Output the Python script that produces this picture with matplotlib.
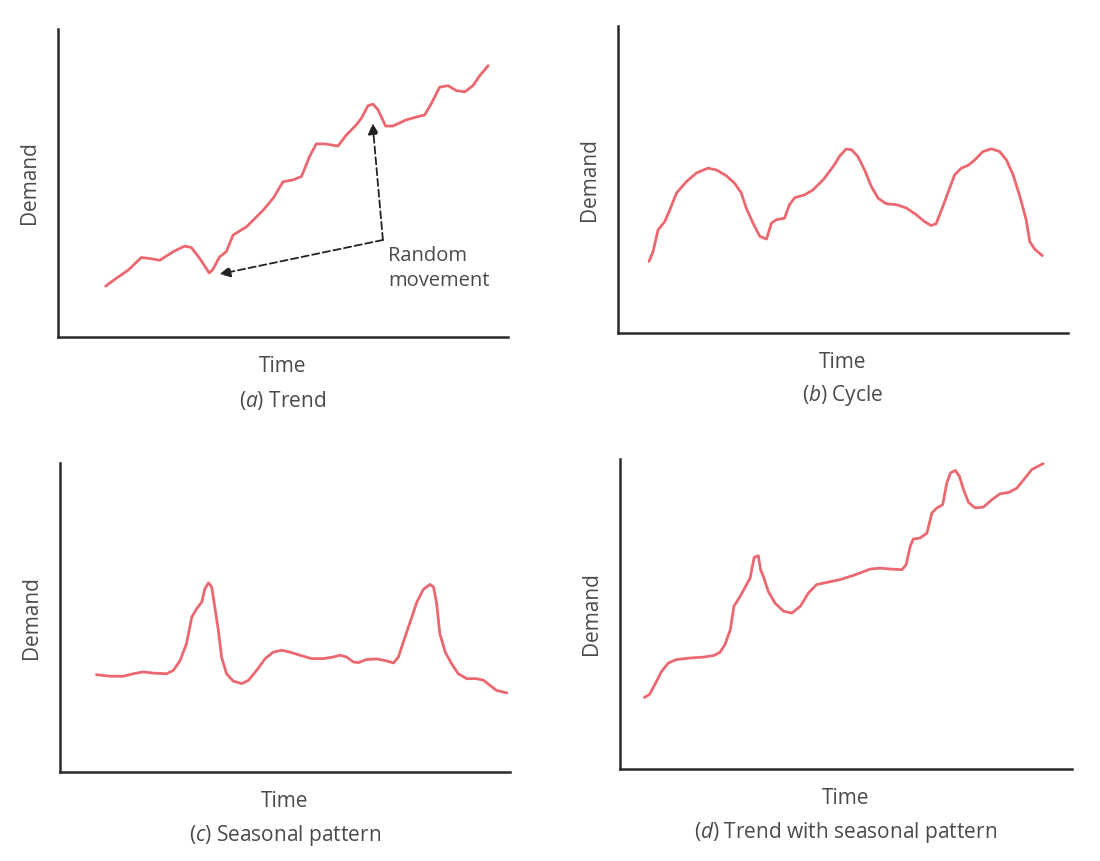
import matplotlib
matplotlib.use("Agg")
import matplotlib.pyplot as plt

plt.rcParams['font.family'] = ['Open Sans', 'DejaVu Sans']
plt.rcParams['mathtext.fontset'] = 'custom'
plt.rcParams['mathtext.rm'] = 'Open Sans'
plt.rcParams['mathtext.it'] = 'Open Sans:italic'

# ---- data (time 0-100, demand 0-100) ----
trend_t = [10.6, 12.6, 15.6, 18.5, 20.4, 22.6, 25.6, 28.1, 29.6, 31.5, 33.6, 34.4, 35.9, 37.4,
           38.9, 41.9, 45.6, 47.8, 50.0, 52.2, 54.1, 55.9, 57.4, 59.3, 62.2, 64.1, 66.3, 67.4,
           68.9, 70.0, 71.1, 72.8, 74.4, 77.4, 79.6, 81.5, 83.0, 84.8, 86.7, 88.5, 90.4, 92.2,
           93.7, 95.6]
trend_d = [16.5, 18.7, 21.7, 25.8, 25.5, 24.9, 27.7, 29.5, 29.1, 25.5, 20.8, 21.9, 26.0, 27.7,
           33.1, 35.8, 41.2, 45.0, 50.4, 51.0, 52.1, 58.6, 62.7, 62.7, 62.0, 65.6, 68.9, 71.0,
           75.1, 75.6, 73.8, 68.5, 68.5, 70.5, 71.4, 72.1, 75.9, 81.1, 81.6, 80.0, 79.6, 81.6,
           84.8, 88.1]

cycle_t = [6.9, 7.8, 8.9, 10.4, 11.5, 13.0, 15.2, 17.4, 20.0, 21.9, 24.1, 25.9, 27.4, 28.5,
           30.0, 31.5, 33.0, 34.1, 35.2, 37.0, 38.1, 39.3, 41.5, 43.3, 45.6, 47.8, 49.3, 50.7,
           51.9, 53.3, 54.8, 56.3, 57.8, 59.6, 61.9, 64.1, 66.3, 68.1, 69.6, 70.7, 71.9, 73.3,
           74.8, 76.3, 77.8, 79.3, 81.1, 83.0, 84.8, 86.3, 87.8, 89.3, 90.7, 91.5, 92.6, 94.3]
cycle_d = [23.3, 26.6, 33.6, 36.3, 40.1, 45.6, 49.3, 52.1, 53.7, 53.1, 51.2, 48.8, 45.6, 40.7,
           35.8, 31.5, 30.6, 35.8, 36.9, 37.4, 41.8, 44.1, 45.0, 46.6, 49.9, 54.2, 57.7, 59.9,
           59.7, 57.5, 53.1, 47.7, 43.9, 42.1, 41.8, 40.7, 38.5, 36.3, 35.0, 35.6, 40.1, 45.6,
           51.5, 53.7, 54.6, 56.4, 59.1, 60.0, 59.1, 56.4, 51.5, 44.5, 36.9, 29.8, 27.3, 25.2]

season_t = [8.1, 11.1, 14.1, 16.3, 18.5, 20.7, 23.7, 25.2, 26.7, 28.1, 29.3, 30.4, 31.5, 32.2,
            33.0, 33.7, 34.4, 35.2, 35.9, 37.0, 38.5, 40.4, 41.9, 43.7, 45.6, 47.4, 49.3, 51.1,
            53.3, 55.9, 58.5, 60.7, 62.2, 63.7, 65.2, 66.3, 68.1, 70.4, 72.2, 74.1, 75.2, 76.3,
            77.8, 79.3, 80.7, 82.2, 83.0, 83.7, 84.4, 85.6, 87.0, 88.5, 90.4, 92.6, 94.1, 95.6,
            97.0, 99.3]
season_d = [31.5, 31.0, 31.0, 31.8, 32.4, 32.0, 31.8, 32.9, 36.1, 41.5, 50.2, 52.9, 55.0, 59.3,
            61.2, 59.9, 53.4, 45.8, 37.2, 31.8, 29.4, 28.6, 29.7, 32.9, 36.7, 38.8, 39.4, 38.8,
            37.8, 36.7, 36.7, 37.2, 37.8, 37.2, 35.6, 35.4, 36.4, 36.6, 36.1, 35.3, 37.2, 42.1,
            48.5, 55.0, 59.0, 60.7, 59.9, 54.5, 44.8, 38.8, 35.1, 31.8, 30.2, 30.2, 29.7, 28.0,
            26.4, 25.6]

tseason_t = [5.4, 6.5, 7.7, 9.2, 10.7, 12.5, 15.5, 18.5, 20.7, 22.1, 23.2, 24.4, 25.2, 26.6,
             28.0, 28.8, 29.2, 29.7, 30.6, 31.1, 31.7, 32.8, 34.3, 36.2, 38.0, 39.9, 41.7, 43.5,
             45.8, 48.7, 51.7, 55.4, 57.6, 59.8, 62.4, 63.3, 64.2, 64.9, 66.4, 67.9, 69.0, 70.1,
             71.4, 72.3, 73.1, 74.2, 75.1, 76.0, 77.1, 78.6, 80.4, 82.3, 84.1, 86.0, 87.8, 89.3,
             91.1, 93.6]
tseason_d = [23.1, 24.0, 27.2, 31.5, 34.2, 35.3, 35.8, 36.1, 36.6, 37.6, 40.1, 44.9, 52.5, 55.7,
             59.5, 61.6, 64.8, 68.3, 68.8, 64.3, 62.2, 57.3, 53.5, 50.9, 50.3, 52.5, 56.8, 59.5,
             60.2, 61.1, 62.5, 64.5, 64.8, 64.5, 64.3, 65.9, 71.8, 74.2, 74.5, 76.1, 82.6, 84.2,
             85.3, 92.3, 95.5, 96.3, 94.4, 90.1, 86.0, 84.2, 84.5, 86.9, 88.8, 89.2, 90.6, 93.3,
             96.6, 98.5]

captions = [r'($\it{a}$) Trend', r'($\it{b}$) Cycle',
            r'($\it{c}$) Seasonal pattern', r'($\it{d}$) Trend with seasonal pattern']
annot_text = 'Random\nmovement'
annot_corner = (72.2, 31.5)
annot_targets = [(69.9, 69.4), (35.9, 20.4)]

LINE = '#ec6870'
TXT = '#4a4a4a'
SPINE = '#2a2a2a'

W, H = 1100, 861
fig = plt.figure(figsize=(11, 8.61), dpi=100)
fig.patch.set_facecolor('white')

# axes boxes in reference pixels: left, right, top, bottom
boxes = [(58, 508, 29, 337), (618, 1068, 26, 333), (60, 510, 463, 772), (620, 1072, 459, 769)]
series = [(trend_t, trend_d), (cycle_t, cycle_d), (season_t, season_d), (tseason_t, tseason_d)]

axes = []
for (l, r, t, b), (xs, ys), cap in zip(boxes, series, captions):
    ax = fig.add_axes([l / W, (H - b) / H, (r - l) / W, (b - t) / H])
    ax.set_xlim(0, 100)
    ax.set_ylim(0, 100)
    for s in ['top', 'right']:
        ax.spines[s].set_visible(False)
    for s in ['left', 'bottom']:
        ax.spines[s].set_color(SPINE)
        ax.spines[s].set_linewidth(1.8)
    ax.set_xticks([])
    ax.set_yticks([])
    ax.plot(xs, ys, color=LINE, lw=2.0, solid_joinstyle='round', solid_capstyle='round')
    ax.set_ylabel('Demand', fontsize=15, color=TXT, labelpad=13)
    ax.set_xlabel('Time', fontsize=15, color=TXT, labelpad=14)
    ax.text(0.5, -0.205, cap, transform=ax.transAxes, ha='center', va='center',
            fontsize=15, color=TXT)
    axes.append(ax)

ax = axes[0]
for tgt in annot_targets:
    ax.annotate('', xy=tgt, xytext=annot_corner,
                arrowprops=dict(arrowstyle='-|>', color='#222222', lw=1.3,
                                linestyle=(0, (4, 2)), mutation_scale=16,
                                shrinkA=0, shrinkB=0))
ax.text(73.3, 22.3, annot_text, ha='left', va='center', fontsize=14.5, color=TXT,
        linespacing=1.35)

fig.savefig('out.png', dpi=100, facecolor='white')
